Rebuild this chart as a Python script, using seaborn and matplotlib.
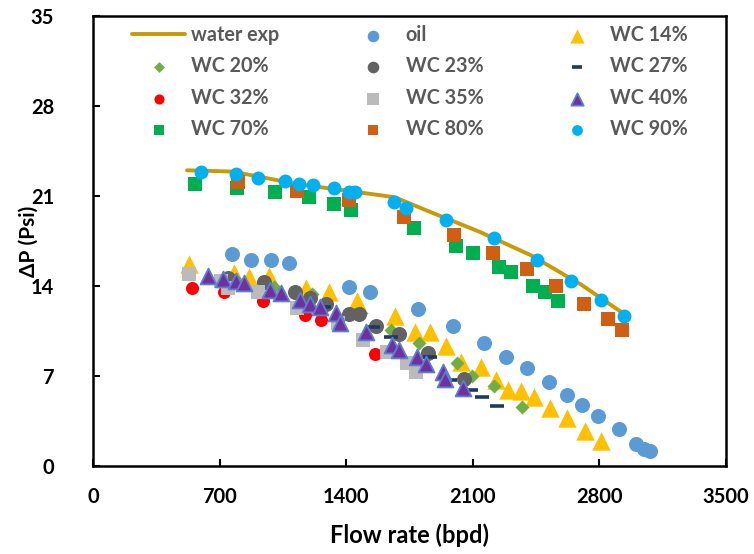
import numpy as np
import pandas as pd
import matplotlib
matplotlib.use("Agg")
import matplotlib.pyplot as plt
import seaborn as sns

# ---------------- data ----------------
water_x = [520, 770, 920, 1140, 1410, 1670, 1840, 2140, 2420, 2700, 2960]
water_y = [23.0, 22.9, 22.5, 21.9, 21.4, 20.9, 19.9, 18.2, 16.4, 14.1, 11.6]

oil_x = [771, 872, 984, 1083, 1413, 1532, 1798, 1990, 2160, 2283, 2397, 2522, 2622, 2705, 2793, 2906, 3003, 3044, 3080]
oil_y = [16.5, 16.0, 16.0, 15.8, 13.9, 13.5, 12.2, 10.9, 9.6, 8.5, 7.6, 6.5, 5.5, 4.75, 3.9, 2.9, 1.7, 1.3, 1.2]

wc14_x = [533, 781, 863, 973, 1175, 1303, 1459, 1670, 1783, 1864, 1953, 2036, 2144, 2228, 2295, 2368, 2437, 2527, 2622, 2720, 2811]
wc14_y = [15.7, 15.0, 14.7, 14.75, 13.85, 13.5, 12.8, 11.7, 10.4, 10.4, 9.3, 8.1, 7.7, 6.7, 5.9, 5.85, 5.4, 4.5, 3.7, 2.75, 1.97]

wc20_x = [800, 1000, 1210, 1480, 1650, 1800, 2010, 2095, 2215, 2370]
wc20_y = [14.3, 13.9, 13.4, 11.9, 10.6, 9.6, 8.0, 7.0, 6.2, 4.6]

wc23_x = [745, 945, 1115, 1200, 1290, 1415, 1470, 1565, 1690, 1850, 2050]
wc23_y = [14.6, 14.3, 13.5, 13.1, 12.6, 11.8, 11.8, 10.9, 10.3, 8.8, 6.8]

wc27_x = [1280, 1550, 1648, 1865, 1975, 2090, 2153, 2232]
wc27_y = [12.4, 10.8, 10.0, 8.5, 6.7, 5.95, 5.4, 4.7]

wc32_x = [548, 725, 940, 1173, 1258, 1560]
wc32_y = [13.85, 13.5, 12.8, 11.75, 11.35, 8.75]

wc35_x = [533, 707, 745, 910, 1130, 1355, 1495, 1628, 1735, 1785]
wc35_y = [14.9, 14.4, 13.85, 13.5, 12.3, 11.1, 9.8, 8.9, 8.0, 7.3]

wc40_x = [634, 717, 793, 836, 977, 1041, 1142, 1202, 1257, 1343, 1367, 1508, 1655, 1693, 1789, 1843, 1935, 1948, 2045]
wc40_y = [14.75, 14.55, 14.4, 14.2, 13.7, 13.45, 12.95, 12.6, 12.4, 11.9, 11.1, 10.4, 9.4, 9.0, 8.5, 7.9, 7.3, 6.75, 6.1]

wc70_x = [564, 797, 1006, 1193, 1330, 1428, 1775, 2006, 2100, 2247, 2309, 2432, 2497, 2572]
wc70_y = [21.9, 21.6, 21.3, 20.9, 20.4, 19.9, 18.5, 17.1, 16.6, 15.5, 15.1, 14.0, 13.5, 12.8]

wc80_x = [799, 1129, 1418, 1722, 1996, 2212, 2398, 2560, 2715, 2845, 2925]
wc80_y = [22.1, 21.4, 20.7, 19.4, 18.0, 16.6, 15.3, 14.0, 12.6, 11.4, 10.6]

wc90_x = [598, 793, 911, 1059, 1138, 1215, 1332, 1413, 1446, 1666, 1732, 1952, 2215, 2454, 2644, 2809, 2936]
wc90_y = [22.9, 22.7, 22.4, 22.2, 21.96, 21.88, 21.6, 21.33, 21.33, 20.5, 20.1, 19.1, 17.7, 16.0, 14.4, 12.9, 11.7]

x_ticks = [0, 700, 1400, 2100, 2800, 3500]
y_ticks = [0, 7, 14, 21, 28, 35]

# ---------------- style ----------------
sns.set_theme(style="white")
plt.rcParams["font.family"] = ["Lato", "DejaVu Sans"]
plt.rcParams["font.weight"] = "bold"

fig = plt.figure(figsize=(7.54, 5.54), dpi=100)
ax = fig.add_axes([93 / 754, 1 - 466 / 554, 633 / 754, 450 / 554])

sns.lineplot(x=water_x, y=water_y, ax=ax, color="#C99A06", linewidth=2.8,
             sort=False, label="water exp", zorder=2)

series = [
    (oil_x, oil_y, "oil", "o", 117, "#5B9BD5", "#5B9BD5", 0),
    (wc14_x, wc14_y, "WC 14%", "^", 175, "#FFC000", "#FFC000", 0),
    (wc20_x, wc20_y, "WC 20%", "D", 51, "#70AD47", "#70AD47", 0),
    (wc23_x, wc23_y, "WC 23%", "o", 117, "#626262", "#626262", 0),
    (wc27_x, wc27_y, "WC 27%", "_", 100, "#203864", "#203864", 2.6),
    (wc32_x, wc32_y, "WC 32%", "o", 88, "#FF0000", "#FF0000", 0),
    (wc35_x, wc35_y, "WC 35%", "s", 110, "#BBBBBB", "#BBBBBB", 0),
    (wc40_x, wc40_y, "WC 40%", "^", 130, "#7030A0", "#5B7FD0", 1.3),
    (wc70_x, wc70_y, "WC 70%", "s", 100, "#00B050", "#00B050", 0),
    (wc80_x, wc80_y, "WC 80%", "s", 100, "#D05F14", "#D05F14", 0),
    (wc90_x, wc90_y, "WC 90%", "o", 100, "#00B0F0", "#00B0F0", 0),
]
for i, (xs, ys, lab, mk, s, fc, ec, lw) in enumerate(series):
    df = pd.DataFrame({"x": xs, "y": ys})
    sns.scatterplot(data=df, x="x", y="y", ax=ax, marker=mk, s=s, color=fc,
                    edgecolor=ec, linewidth=lw, label=lab, zorder=3 + i)

ax.set_xlim(0, 3500)
ax.set_ylim(0, 35)
ax.set_xticks(x_ticks)
ax.set_yticks(y_ticks)
ax.set_xlabel("Flow rate (bpd)", fontsize=17, fontweight="bold", color="black")
ax.set_ylabel("ΔP (Psi)", fontsize=15, fontweight="bold", color="black")
ax.xaxis.set_label_coords(0.5, (466 - 523) / 450)
ax.yaxis.set_label_coords((39 - 93) / 633, 0.5)
for sp in ax.spines.values():
    sp.set_visible(True)
    sp.set_color("black")
    sp.set_linewidth(1.8)
ax.tick_params(axis="both", direction="in", length=5, width=1.5, color="black",
               labelsize=14.5, labelcolor="black", top=False, right=False,
               bottom=True, left=True)
ax.tick_params(axis="x", pad=15)
ax.tick_params(axis="y", pad=28)
for t in ax.get_xticklabels() + ax.get_yticklabels():
    t.set_fontweight("bold")

handles, labels = ax.get_legend_handles_labels()
order = [0, 3, 6, 9, 1, 4, 7, 10, 2, 5, 8, 11]
handles = [handles[i] for i in order]
labels = [labels[i] for i in order]
leg = ax.legend(handles, labels, ncol=3, loc="upper left",
                bbox_to_anchor=((132 - 93) / 633, (466 - 25) / 450),
                frameon=False, fontsize=14.2, handlelength=2.7, handletextpad=0.3,
                columnspacing=3.4, labelspacing=0.58, borderpad=0, borderaxespad=0)
for t in leg.get_texts():
    t.set_color("#595959")
    t.set_fontweight("bold")
for h in leg.legend_handles:
    if hasattr(h, "get_sizes") and len(h.get_sizes()):
        h.set_sizes([h.get_sizes()[0] * 0.6])

fig.savefig("out.png", dpi=100)
